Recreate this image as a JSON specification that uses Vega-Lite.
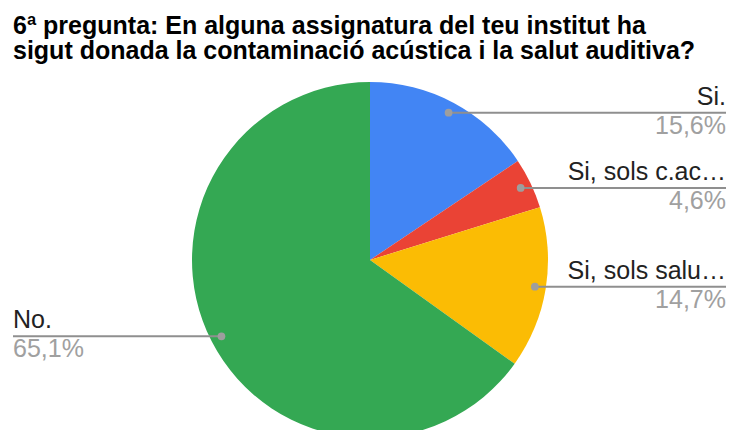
{
  "$schema": "https://vega.github.io/schema/vega-lite/v6.json",
  "autosize": {"type": "none"},
  "width": 718,
  "height": 340,
  "padding": {"left": 11, "top": 90, "right": 0, "bottom": 0},
  "background": "white",
  "title": {
    "text": ["6ª pregunta: En alguna assignatura del teu institut ha", "sigut donada la contaminació acústica i la salut auditiva?"],
    "anchor": "start",
    "frame": "group",
    "font": "Liberation Sans",
    "fontSize": 25,
    "fontWeight": "bold",
    "color": "#000000",
    "lineHeight": 25,
    "offset": 18,
    "dx": 2
  },
  "config": {"view": {"stroke": null}},
  "data": {
    "values": [
      {"label": "Si.", "pct": 15.6, "pctLabel": "15,6%", "ord": 1},
      {"label": "Si, sols c.ac…", "pct": 4.6, "pctLabel": "4,6%", "ord": 2},
      {"label": "Si, sols salu…", "pct": 14.7, "pctLabel": "14,7%", "ord": 3},
      {"label": "No.", "pct": 65.1, "pctLabel": "65,1%", "ord": 4}
    ]
  },
  "transform": [
    {"window": [{"op": "sum", "field": "pct", "as": "cum"}], "sort": [{"field": "ord"}], "frame": [null, 0]},
    {"joinaggregate": [{"op": "sum", "field": "pct", "as": "tot"}]},
    {"calculate": "(datum.cum - datum.pct / 2) / datum.tot * 2 * PI", "as": "ang"},
    {"calculate": "167 * sin(datum.ang)", "as": "px"},
    {"calculate": "167 * cos(datum.ang)", "as": "py"},
    {"calculate": "datum.px > 0 ? 356 : -357", "as": "xEnd"}
  ],
  "layer": [
    {
      "mark": {"type": "arc", "outerRadius": 178, "stroke": null},
      "encoding": {
        "theta": {"field": "pct", "type": "quantitative", "stack": true},
        "order": {"field": "ord", "type": "quantitative"},
        "color": {
          "field": "label",
          "type": "nominal",
          "scale": {"domain": ["Si.", "Si, sols c.ac…", "Si, sols salu…", "No."], "range": ["#4285F4", "#EA4335", "#FBBC04", "#34A853"]},
          "legend": null
        }
      }
    },
    {
      "mark": {"type": "rule", "color": "#8f8f8f", "strokeWidth": 2},
      "encoding": {
        "x": {"field": "px", "type": "quantitative", "scale": {"domain": [-359, 359], "nice": false, "zero": false}, "axis": null},
        "x2": {"field": "xEnd"},
        "y": {"field": "py", "type": "quantitative", "scale": {"domain": [-170, 170], "nice": false, "zero": false}, "axis": null}
      }
    },
    {
      "mark": {"type": "point", "filled": true, "color": "#9e9e9e", "size": 60, "opacity": 1},
      "encoding": {
        "x": {"field": "px", "type": "quantitative"},
        "y": {"field": "py", "type": "quantitative"}
      }
    },
    {
      "transform": [{"filter": "datum.px > 0"}],
      "mark": {"type": "text", "align": "right", "baseline": "alphabetic", "dy": -8, "font": "Liberation Sans", "fontSize": 25, "color": "#222222"},
      "encoding": {
        "x": {"field": "xEnd", "type": "quantitative"},
        "y": {"field": "py", "type": "quantitative"},
        "text": {"field": "label"}
      }
    },
    {
      "transform": [{"filter": "datum.px > 0"}],
      "mark": {"type": "text", "align": "right", "baseline": "alphabetic", "dy": 21, "font": "Liberation Sans", "fontSize": 25, "color": "#a0a0a0"},
      "encoding": {
        "x": {"field": "xEnd", "type": "quantitative"},
        "y": {"field": "py", "type": "quantitative"},
        "text": {"field": "pctLabel"}
      }
    },
    {
      "transform": [{"filter": "datum.px <= 0"}],
      "mark": {"type": "text", "align": "left", "baseline": "alphabetic", "dy": -8, "font": "Liberation Sans", "fontSize": 25, "color": "#222222"},
      "encoding": {
        "x": {"field": "xEnd", "type": "quantitative"},
        "y": {"field": "py", "type": "quantitative"},
        "text": {"field": "label"}
      }
    },
    {
      "transform": [{"filter": "datum.px <= 0"}],
      "mark": {"type": "text", "align": "left", "baseline": "alphabetic", "dy": 21, "font": "Liberation Sans", "fontSize": 25, "color": "#a0a0a0"},
      "encoding": {
        "x": {"field": "xEnd", "type": "quantitative"},
        "y": {"field": "py", "type": "quantitative"},
        "text": {"field": "pctLabel"}
      }
    }
  ]
}
